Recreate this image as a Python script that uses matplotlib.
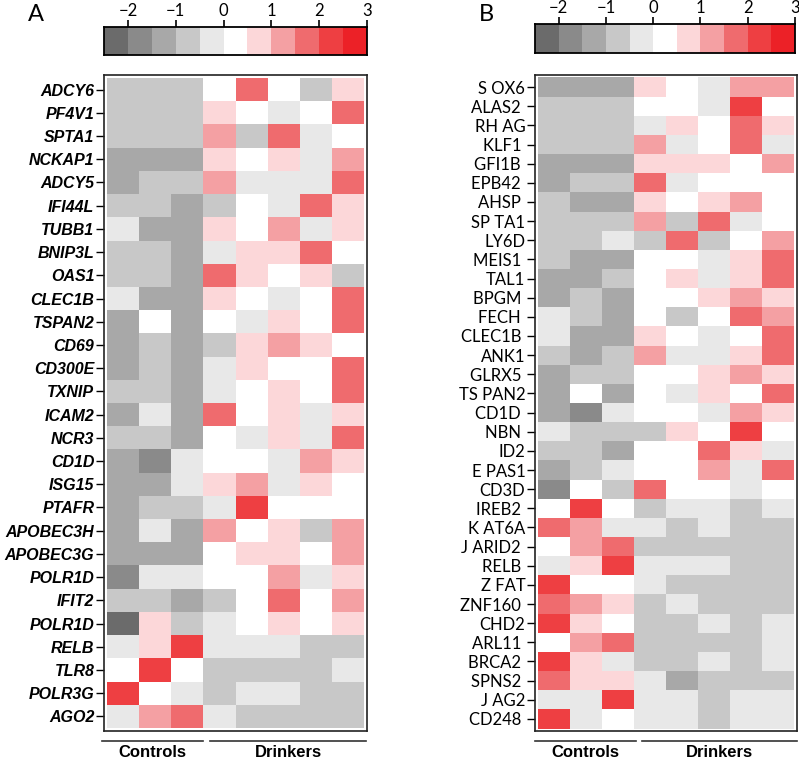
import numpy as np
import matplotlib
matplotlib.use("Agg")
import matplotlib.pyplot as plt
from matplotlib.colors import ListedColormap, BoundaryNorm
from matplotlib.lines import Line2D

# colour scale: 11 bins of 0.5 between -2.5 and 3
bin_edges = np.arange(-2.5, 3.01, 0.5)
bin_colors = ['#6b6b6b', '#8a8a8a', '#a8a8a8', '#c8c8c8', '#e8e8e8', '#ffffff',
              '#fcd7d9', '#f4a0a3', '#ef6b6e', '#ee3f42', '#ec2127']
cbar_ticks = [-2, -1, 0, 1, 2, 3]

groups = ['Controls', 'Drinkers']

# panel A: colour levels (0 = white bin, +/- = bins away)
a_genes = ['ADCY6', 'PF4V1', 'SPTA1', 'NCKAP1', 'ADCY5', 'IFI44L', 'TUBB1', 'BNIP3L',
           'OAS1', 'CLEC1B', 'TSPAN2', 'CD69', 'CD300E', 'TXNIP', 'ICAM2', 'NCR3',
           'CD1D', 'ISG15', 'PTAFR', 'APOBEC3H', 'APOBEC3G', 'POLR1D', 'IFIT2',
           'POLR1D', 'RELB', 'TLR8', 'POLR3G', 'AGO2']
a_levels = [
    [-2, -2, -2, 0, 3, 0, -2, 1],
    [-2, -2, -2, 1, 0, -1, 0, 3],
    [-2, -2, -2, 2, -2, 3, -1, 0],
    [-3, -3, -3, 1, 0, 1, -1, 2],
    [-3, -2, -2, 2, -1, -1, -1, 3],
    [-2, -2, -3, -2, 0, -1, 3, 1],
    [-1, -3, -3, 1, 0, 2, -1, 1],
    [-2, -2, -3, -1, 1, 1, 3, 0],
    [-2, -2, -3, 3, 1, 0, 1, -2],
    [-1, -3, -3, 1, 0, -1, 0, 3],
    [-3, 0, -3, 0, -1, 1, 0, 3],
    [-3, -2, -3, -2, 1, 2, 1, 0],
    [-3, -2, -3, -1, 1, 0, 0, 3],
    [-2, -2, -3, -1, 0, 1, 0, 3],
    [-3, -1, -3, 3, 0, 1, -1, 1],
    [-2, -2, -3, 0, -1, 1, -1, 3],
    [-3, -4, -1, 0, 0, -1, 2, 1],
    [-3, -3, -1, 1, 2, -1, 1, 0],
    [-3, -2, -2, -1, 4, 0, 0, 0],
    [-3, -1, -3, 2, 0, 1, -2, 2],
    [-3, -3, -3, 0, 1, 1, 0, 2],
    [-4, -1, -1, 0, 0, 2, -1, 1],
    [-2, -2, -3, -2, 0, 3, 0, 2],
    [-5, 1, -2, -1, 0, 1, 0, 1],
    [-1, 1, 4, -1, -1, -1, -2, -2],
    [0, 4, 0, -2, -2, -2, -2, -1],
    [4, 0, -1, -2, -1, -1, -2, -2],
    [-1, 2, 3, -1, -2, -2, -2, -2],
]

# panel B
b_genes = ['S OX6', 'ALAS2 ', 'RH AG', 'KLF1 ', 'GFI1B ', 'EPB42 ', 'AHSP ', 'SP TA1',
           'LY6D', 'MEIS1 ', 'TAL1', 'BPGM ', 'FECH ', 'CLEC1B ', 'ANK1', 'GLRX5 ',
           'TS PAN2', 'CD1D ', 'NBN ', 'ID2', 'E PAS1', 'CD3D', 'IREB2 ', 'K AT6A',
           'J ARID2 ', 'RELB ', 'Z FAT', 'ZNF160 ', 'CHD2', 'ARL11 ', 'BRCA2 ',
           'SPNS2 ', 'J AG2', 'CD248 ']
b_levels = [
    [-3, -3, -3, 1, 0, -1, 2, 2],
    [-2, -2, -2, 0, 0, -1, 4, 0],
    [-2, -2, -2, -1, 1, 0, 3, 1],
    [-2, -2, -2, 2, -1, 0, 3, -1],
    [-3, -3, -3, 1, 1, 1, 0, 2],
    [-3, -2, -2, 3, -1, 0, 0, 0],
    [-2, -3, -3, 1, 0, 1, 2, 0],
    [-2, -2, -2, 2, -2, 3, -1, 0],
    [-2, -2, -1, -2, 3, -2, 0, 2],
    [-2, -3, -3, 0, 0, -1, 1, 3],
    [-3, -3, -2, 0, 1, -1, 1, 3],
    [-3, -2, -3, 0, 0, 1, 2, 1],
    [-1, -2, -3, 0, -2, 0, 3, 2],
    [-1, -3, -3, 1, 0, -1, 0, 3],
    [-2, -3, -2, 2, -1, -1, 1, 3],
    [-3, -2, -2, 0, 0, 1, 2, 1],
    [-3, 0, -3, 0, -1, 1, 0, 3],
    [-3, -4, -1, 0, 0, -1, 2, 1],
    [-1, -2, -2, -2, 1, 0, 4, 0],
    [-2, -2, -3, 0, 0, 3, 1, -1],
    [-3, -2, -1, 0, 0, 2, -1, 3],
    [-4, 0, -2, 3, 0, 0, -1, 0],
    [0, 4, 0, -2, -1, -1, -2, -1],
    [3, 2, -1, -1, -2, -1, -2, -2],
    [0, 2, 3, -2, -2, -2, -2, -2],
    [-1, 1, 4, -1, -1, -1, -2, -2],
    [4, 0, 0, -1, -2, -2, -2, -2],
    [3, 2, 1, -2, -1, -2, -2, -2],
    [4, 1, 0, -2, -2, -1, -2, -1],
    [0, 2, 3, -2, -2, -2, -2, -1],
    [4, 1, -1, -2, -2, -1, -2, -1],
    [3, 1, 1, -1, -3, -2, -2, -2],
    [-1, -1, 4, -1, -1, -2, -1, -1],
    [4, -1, 0, -1, -1, -2, -1, -1],
]

W, H = 799, 759
cmap = ListedColormap(bin_colors)
norm = BoundaryNorm(bin_edges, cmap.N)


def box(x0, y0, x1, y1):
    return [x0 / W, 1 - y1 / H, (x1 - x0) / W, (y1 - y0) / H]


def level_to_z(levels):
    # centre of the colour bin
    return 0.25 + 0.5 * np.asarray(levels, dtype=float)


def colorbar(fig, rect):
    ax = fig.add_axes(rect)
    centers = (bin_edges[:-1] + bin_edges[1:]) / 2
    ax.pcolormesh(bin_edges, [0, 1], centers[None, :], cmap=cmap, norm=norm)
    ax.set_xlim(bin_edges[0], bin_edges[-1])
    ax.set_ylim(0, 1)
    ax.set_yticks([])
    ax.xaxis.tick_top()
    ax.set_xticks(cbar_ticks)
    ax.set_xticklabels([f'{t}'.replace('-', '\u2212') for t in cbar_ticks],
                       fontsize=12, family='Lato')
    ax.tick_params(axis='x', length=5, width=1.2, pad=1)
    for s in ax.spines.values():
        s.set_linewidth(1.3)
    return ax


def heatmap(fig, rect, genes, levels, label_kw, tick_len):
    ax = fig.add_axes(rect)
    z = level_to_z(levels)
    nr, nc = z.shape
    ax.pcolormesh(np.arange(nc + 1), np.arange(nr + 1), z, cmap=cmap, norm=norm)
    padx, pady = 0.1, 0.13
    ax.set_xlim(-padx, nc + padx)
    ax.set_ylim(nr + pady, -pady)
    ax.set_xticks([])
    ax.set_yticks(np.arange(nr) + 0.5)
    ax.set_yticklabels(genes, **label_kw)
    ax.tick_params(axis='y', length=tick_len, width=1.0, pad=1)
    for s in ax.spines.values():
        s.set_linewidth(1.2)
        s.set_color('#222222')
    return ax


fig = plt.figure(figsize=(W / 100, H / 100), dpi=100)

fig.text(28 / W, 1 - 21 / H, 'A', fontsize=17, family='Lato', va='baseline')
fig.text(479 / W, 1 - 21 / H, 'B', fontsize=17, family='Lato', va='baseline')

colorbar(fig, box(104, 27, 367, 55))
colorbar(fig, box(535, 24, 795, 53))

heatmap(fig, box(104, 75, 367, 731), a_genes, a_levels,
        dict(family='Liberation Sans', fontweight='bold', fontstyle='italic', fontsize=11.5), 6)
heatmap(fig, box(535, 75, 797, 731), b_genes, b_levels,
        dict(family='Lato', fontsize=12), 6)

# group brackets under each heatmap
for (c0, c1, d0, d1) in [(102, 203, 210, 366), (535, 636, 642, 797)]:
    for x0, x1 in [(c0, c1), (d0, d1)]:
        fig.add_artist(Line2D([x0 / W, x1 / W], [1 - 741 / H] * 2, color='#333333', lw=1.2))
    fig.text((c0 + c1) / 2 / W, 1 - 757 / H, groups[0], ha='center', va='baseline',
             family='Liberation Sans', fontweight='bold', fontsize=12)
    fig.text((d0 + d1) / 2 / W, 1 - 757 / H, groups[1], ha='center', va='baseline',
             family='Liberation Sans', fontweight='bold', fontsize=12)

fig.savefig('out.png', dpi=100)
